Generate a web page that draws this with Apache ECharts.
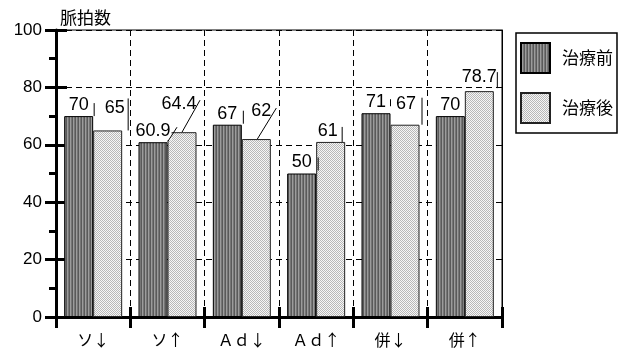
<!DOCTYPE html>
<html>
<head>
<meta charset="utf-8">
<script src="https://cdn.jsdelivr.net/npm/echarts@6/dist/echarts.min.js"></script>
<style>
  html, body { margin: 0; padding: 0; background: #fff; }
  #chart { width: 620px; height: 350px; }
</style>
</head>
<body>
<div id="chart"></div>
<script>
// Pulse rate before / after treatment, per drug group
const categories = ['ソ↓', 'ソ↑', 'Ａｄ↓', 'Ａｄ↑', '併↓', '併↑'];
const before = [70, 60.9, 67, 50, 71, 70];
const after = [65, 64.4, 62, 61, 67, 78.7];
const seriesNames = ['治療前', '治療後'];
const yTicks = [0, 20, 40, 60, 80, 100];

// Value-label nudges (px) for the "after" bars
const afterLabelShift = [[7, -11], [-3, -17], [5, -17], [-3, 0], [1, -10], [0, -3]];

// Leader strokes, relative to each bar's top-centre (px): [x1, y1, x2, y2]; null = none
const beforeLeaders = [[15.5, -13, 15.5, 0], [15, -1, 24, -15], [16, -14, 16, -1], [16.5, -16, 16.5, -3], [14.5, -14, 14.5, -7], null];
const afterLeaders = [[20.5, -32, 20.5, 0], [18, -32, 0, 0], [20, -31, 1, 0], [11.5, -15, 11.5, 0], [17, -27, 17, 0], [18, -19, 18, -3]];

const BAR_W = 29;

function makePattern(w, h, painter) {
  const c = document.createElement('canvas');
  c.width = w; c.height = h;
  painter(c.getContext('2d'));
  return c;
}
// vertical stripes for the dark bars
const stripes = makePattern(3, 4, ctx => {
  ['#5a5a5a', '#9c9c9c', '#767676'].forEach((col, i) => {
    ctx.fillStyle = col; ctx.fillRect(i, 0, 1, 4);
  });
});
// fine checker dots for the light bars
const dots = makePattern(2, 2, ctx => {
  ctx.fillStyle = '#f6f6f6'; ctx.fillRect(0, 0, 2, 2);
  ctx.fillStyle = '#b8b8b8'; ctx.fillRect(0, 0, 1, 1); ctx.fillRect(1, 1, 1, 1);
});

// leader line records: [category index, value, side (-1 dark / +1 light), stroke]
const leaderData = [];
before.forEach((v, i) => { if (beforeLeaders[i]) leaderData.push([i, v, -1, i, 0]); });
after.forEach((v, i) => { if (afterLeaders[i]) leaderData.push([i, v, 1, i, 1]); });

function renderLeader(params, api) {
  const rec = leaderData[params.dataIndex];
  const top = api.coord([api.value(0), api.value(1)]);
  const cx = top[0] + rec[2] * BAR_W / 2;
  const s = (rec[4] === 0 ? beforeLeaders : afterLeaders)[rec[3]];
  return {
    type: 'line',
    shape: { x1: cx + s[0], y1: top[1] + s[1], x2: cx + s[2], y2: top[1] + s[3] },
    style: { stroke: '#000', lineWidth: 1 }
  };
}

const chart = echarts.init(document.getElementById('chart'), null, { renderer: 'canvas' });
const font = '"Liberation Sans", Arial, sans-serif';
const cjk = '"Noto Sans CJK JP", sans-serif';
const dash = [6, 4];
const gridBox = { left: 56, top: 30, right: 118, bottom: 33 };

const labelBase = {
  show: true,
  position: 'top',
  distance: 2,
  color: '#000',
  fontFamily: font,
  fontSize: 18,
  backgroundColor: '#fff',
  padding: [1, 1, 0, 1]
};

chart.setOption({
  animation: false,
  grid: [
    Object.assign({ show: true, borderColor: '#000', borderWidth: 1 }, gridBox),
    Object.assign({}, gridBox)
  ],
  legend: {
    orient: 'vertical',
    left: 516,
    top: 33,
    padding: [9, 4, 9, 4],
    itemWidth: 29,
    itemHeight: 30,
    itemGap: 18,
    borderColor: '#000',
    borderWidth: 1.5,
    icon: 'rect',
    textStyle: { fontFamily: cjk, fontSize: 17, color: '#000', padding: [0, 0, 0, 7] },
    data: seriesNames
  },
  xAxis: [
    {
      type: 'category', gridIndex: 0, data: categories,
      axisLine: { lineStyle: { color: '#000', width: 3 } },
      axisTick: { show: true, length: 11, lineStyle: { color: '#000', width: 3 } },
      axisLabel: { color: '#000', fontFamily: cjk, fontSize: 16, margin: 15 },
      splitLine: { show: true, lineStyle: { color: '#000', type: dash, width: 1 } }
    },
    {
      type: 'category', gridIndex: 1, data: categories,
      axisLine: { show: false },
      axisTick: { show: true, inside: true, length: 10, lineStyle: { color: '#000', width: 3 } },
      axisLabel: { show: false },
      splitLine: { show: false }
    }
  ],
  yAxis: [
    {
      type: 'value', gridIndex: 0, min: 0, max: 100, interval: 20,
      name: '脈拍数',
      nameLocation: 'end',
      nameGap: 4,
      nameTextStyle: { fontFamily: cjk, fontSize: 17, color: '#000', align: 'left', padding: [0, 0, 0, 4] },
      axisLine: { show: true, lineStyle: { color: '#000', width: 3 } },
      axisTick: { show: true, length: 11, lineStyle: { color: '#000', width: 3 } },
      minorTick: { show: true, splitNumber: 2, length: 7, lineStyle: { color: '#000', width: 3 } },
      axisLabel: {
        color: '#000', fontFamily: font, fontSize: 17, margin: 14,
        formatter: v => (yTicks.indexOf(v) >= 0 ? String(v) : '')
      },
      splitLine: { show: true, lineStyle: { color: '#000', type: dash, width: 1 } }
    },
    {
      type: 'value', gridIndex: 0, min: 0, max: 100, interval: 20, position: 'right',
      axisLine: { show: true, lineStyle: { color: '#000', width: 1 } },
      axisTick: { show: true, inside: true, length: 5, lineStyle: { color: '#000', width: 1 } },
      axisLabel: { show: false },
      splitLine: { show: false }
    },
    {
      type: 'value', gridIndex: 1, min: 0, max: 100, interval: 20,
      axisLine: { show: false },
      axisTick: { show: true, inside: true, length: 11, lineStyle: { color: '#000', width: 3 } },
      axisLabel: { show: false },
      splitLine: { show: false }
    }
  ],
  series: [
    {
      name: seriesNames[0],
      type: 'bar',
      xAxisIndex: 0, yAxisIndex: 0,
      barWidth: BAR_W,
      barGap: '0%',
      data: before,
      itemStyle: { color: { image: stripes, repeat: 'repeat' }, borderColor: '#000', borderWidth: 1 },
      label: labelBase,
      z: 3
    },
    {
      name: seriesNames[1],
      type: 'bar',
      xAxisIndex: 0, yAxisIndex: 0,
      barWidth: BAR_W,
      data: after,
      itemStyle: { color: { image: dots, repeat: 'repeat' }, borderColor: '#222', borderWidth: 1 },
      label: labelBase,
      labelLayout: p => ({ dx: afterLabelShift[p.dataIndex][0], dy: afterLabelShift[p.dataIndex][1] }),
      z: 3
    },
    {
      name: 'leaders',
      type: 'custom',
      xAxisIndex: 0, yAxisIndex: 0,
      renderItem: renderLeader,
      data: leaderData,
      encode: { x: 0, y: 1 },
      silent: true,
      z: 5
    }
  ]
});
</script>
</body>
</html>
